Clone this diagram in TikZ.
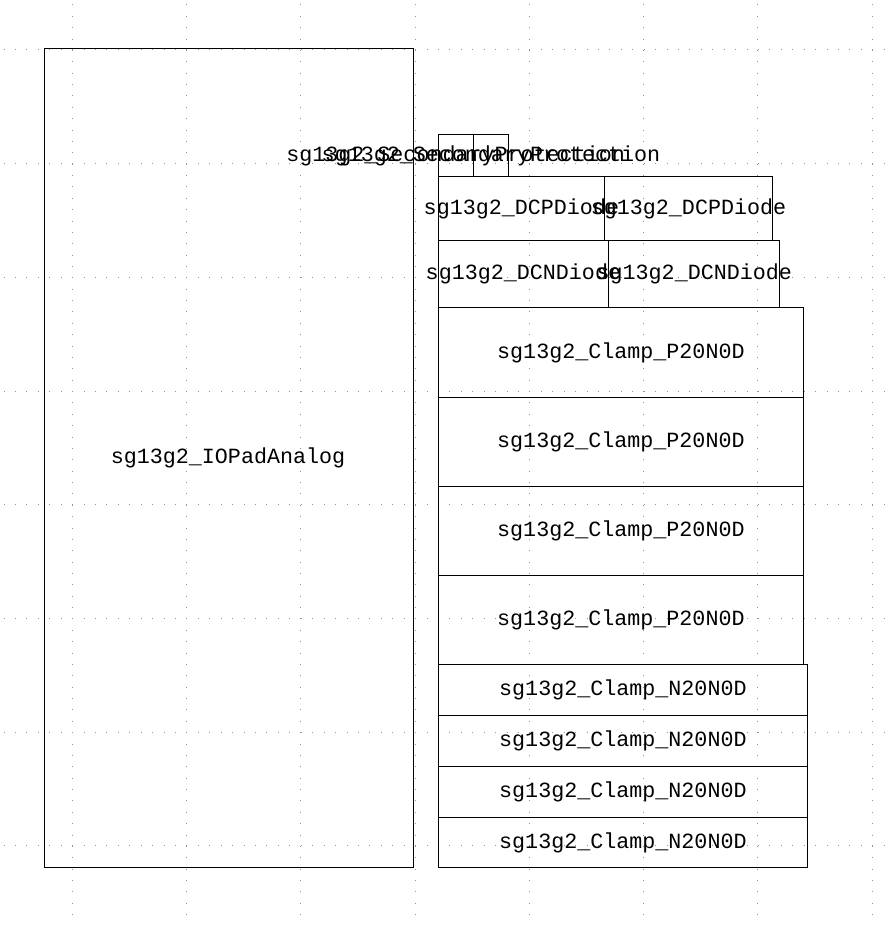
\documentclass[tikz,border=0pt]{standalone}
\usepackage{fontspec}
\setmonofont{Liberation Mono}
\begin{document}
\begin{tikzpicture}[x=1pt,y=-1pt,
  cell/.style={draw=black, line width=1pt, rectangle, inner sep=0pt, anchor=north west},
  lbl/.style={font=\ttfamily\fontsize{21.7}{26}\selectfont, inner sep=0pt, text=black},
  gridv/.style={gray!85, line width=1pt, dash pattern=on 1pt off 10.37pt},
  gridh/.style={gray!85, line width=1pt, dash pattern=on 1pt off 10.43pt}]
\useasboundingbox (0,0) rectangle (886,925);
% dotted grid
\foreach \i in {0,...,7} {
  \draw[gridv] ({72.2+114.27*\i}, 4.5) -- ({72.2+114.27*\i}, 925);
  \draw[gridh] (3.6, {50+113.7*\i}) -- (886, {50+113.7*\i});
}
% main pad
\node[cell, minimum width=369pt, minimum height=819pt,
  label={[lbl, xshift=-1pt]center:sg13g2\_IOPadAnalog}] (pad) at (44,48) {};
% secondary protection
\node[cell, minimum width=35.2pt, minimum height=42.2pt,
  label={[lbl]center:sg13g2\_SecondaryProtection}] (sec1) at (437.5,134.3) {};
\node[cell, minimum width=35.6pt, minimum height=42.2pt,
  label={[lbl]center:sg13g2\_SecondaryProtection}] (sec2) at (472.7,134.3) {};
% DCP diodes
\node[cell, minimum width=166.8pt, minimum height=63.5pt,
  label={[lbl]center:sg13g2\_DCPDiode}] (dcp1) at (437.5,176.5) {};
\node[cell, minimum width=167.4pt, minimum height=63.5pt,
  label={[lbl]center:sg13g2\_DCPDiode}] (dcp2) at (604.3,176.5) {};
% DCN diodes
\node[cell, minimum width=170.8pt, minimum height=67.2pt,
  label={[lbl]center:sg13g2\_DCNDiode}] (dcn1) at (437.5,240) {};
\node[cell, minimum width=171pt, minimum height=67.2pt,
  label={[lbl]center:sg13g2\_DCNDiode}] (dcn2) at (608.3,240) {};
% P clamps
\foreach \k/\y in {1/307.3,2/396.5,3/485.7,4/574.9} {
  \node[cell, minimum width=365.8pt, minimum height=89.2pt,
    label={[lbl]center:sg13g2\_Clamp\_P20N0D}] (clp\k) at (437.5,\y) {};
}
% N clamps
\foreach \k/\y in {1/664.3,2/715.05,3/765.8,4/816.55} {
  \node[cell, minimum width=369.8pt, minimum height=50.75pt,
    label={[lbl]center:sg13g2\_Clamp\_N20N0D}] (cln\k) at (437.5,\y) {};
}
\end{tikzpicture}
\end{document}
